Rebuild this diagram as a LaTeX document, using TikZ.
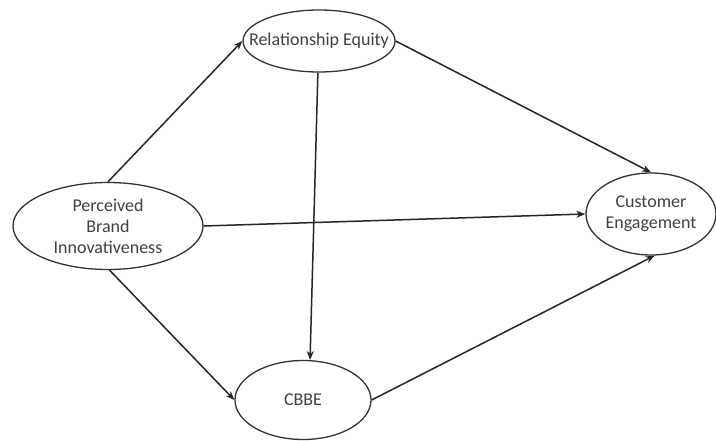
\documentclass[tikz,border=0pt]{standalone}
\usepackage{fontspec}
\setmainfont{Carlito}
\usetikzlibrary{shapes.geometric,arrows.meta}
\begin{document}
\begin{tikzpicture}[x=1pt,y=-1pt,
  var/.style={draw=black!80,line width=1.3pt,ellipse,inner sep=0pt},
  lab/.style={align=center,inner sep=0pt,font=\fontsize{18}{21}\selectfont,text=black!75},
  conn/.style={draw=black!85,line width=1.5pt,-{Stealth[length=9pt,width=7pt]}}]
\useasboundingbox[fill=white] (0,0) rectangle (716,441);
\node[var,minimum width=152pt,minimum height=62pt,label={[lab]center:Relationship Equity}] (re) at (319,41) {};
\node[var,minimum width=190pt,minimum height=87pt,label={[lab]center:{Perceived\\Brand\\Innovativeness}}] (pbi) at (108,226) {};
\node[var,minimum width=130pt,minimum height=82pt,label={[lab]center:{Customer\\Engagement}}] (ce) at (651,214) {};
\node[var,minimum width=136pt,minimum height=79pt,label={[lab]center:CBBE}] (cbbe) at (303,400) {};
\draw[conn] (pbi.north) -- (re.west);
\draw[conn] (re.east) -- (ce.north);
\draw[conn] (pbi.east) -- (ce.west);
\draw[conn] (re.268) -- (cbbe.80);
\draw[conn] (pbi.-88) -- (cbbe.west);
\draw[conn] (cbbe.east) -- (ce.-85);
\end{tikzpicture}
\end{document}
